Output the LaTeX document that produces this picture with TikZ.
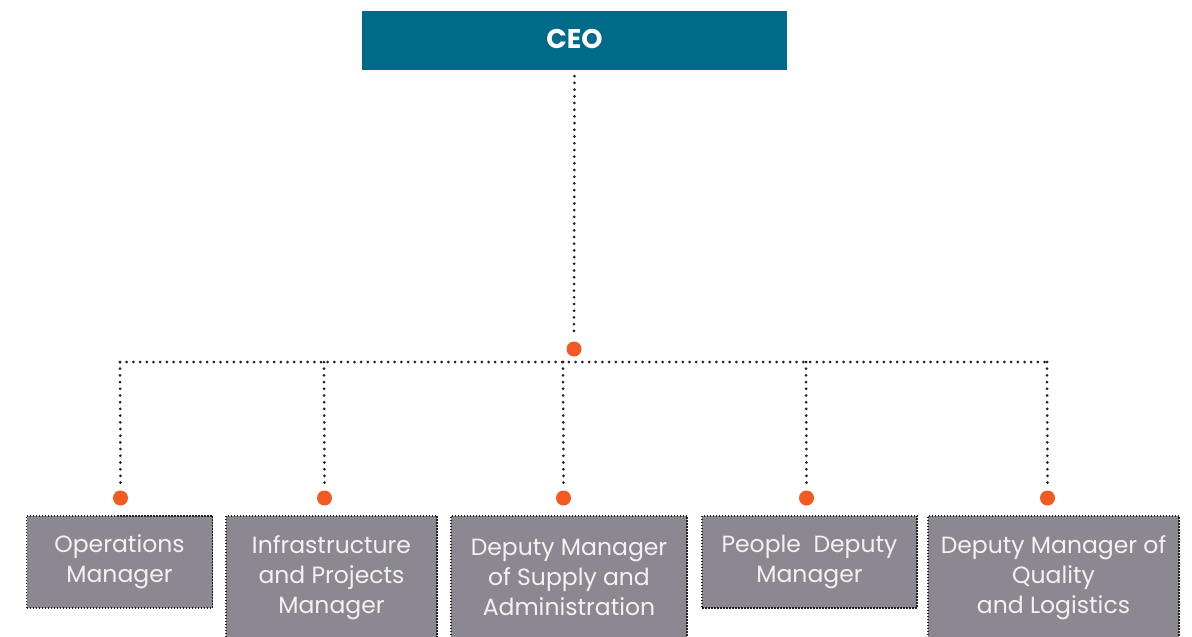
\documentclass[tikz,border=0pt]{standalone}
\usepackage{fontspec}
\setmainfont{Poppins}
\newfontfamily\ceofont{Poppins}
\definecolor{ceoblue}{HTML}{006A8A}
\definecolor{boxgray}{HTML}{8C8892}
\definecolor{boxtext}{HTML}{F2F2F2}
\definecolor{hubdot}{HTML}{F15A22}
\definecolor{linegray}{HTML}{222222}
\begin{document}
\begin{tikzpicture}[x=1pt,y=-1pt,
  ceobox/.style={fill=ceoblue, minimum width=425pt, minimum height=59pt, inner sep=0pt,
    font=\ceofont\bfseries\fontsize{27}{30}\selectfont, text=white},
  rolebox/.style={fill=boxgray, draw=linegray, line width=1.5pt, dash pattern=on 1.5pt off 1.5pt,
    anchor=north, inner sep=0pt, align=center, text=boxtext,
    font=\fontsize{23.5}{30}\selectfont},
  orgdot/.style={circle, fill=hubdot, minimum size=15pt, inner sep=0pt},
  link/.style={draw=linegray, line width=3pt, line cap=round, dash pattern=on 0pt off 6.7pt}
]
\useasboundingbox (0,0) rectangle (1192,637);

\node[ceobox] (ceo) at (574.5,40.5) {\raisebox{3pt}{CEO}};
\node[orgdot] (hub) at (574,349) {};
\coordinate (barL) at (120,362);
\coordinate (barR) at (1050,362);
\draw[link] ([yshift=-6pt]ceo.south) -- ([yshift=8pt]hub.north);
\draw[link] (barL) -- (barR);

\node[rolebox, minimum width=186pt, minimum height=92pt] (b1) at (119.5,515) {Operations\\Manager};
\node[rolebox, minimum width=211pt, minimum height=124pt] (b2) at (331.5,515) {Infrastructure\\and Projects\\Manager};
\node[rolebox, minimum width=236pt, minimum height=124pt] (b3) at (569,515) {Deputy Manager\\of Supply and\\Administration};
\node[rolebox, minimum width=215pt, minimum height=92pt] (b4) at (809.5,515) {People\ \ Deputy\\Manager};
\node[rolebox, minimum width=251pt, minimum height=124pt] (b5) at (1053.5,515) {Deputy Manager of\\Quality\\and Logistics};

\foreach \i/\x in {1/120,2/324,3/563,4/806,5/1047}{
  \coordinate (j\i) at (\x,362);
  \node[orgdot] (d\i) at (\x+0.5,498) {};
  \draw[link] (j\i) -- ([yshift=7pt]d\i.north);
}
\end{tikzpicture}
\end{document}
